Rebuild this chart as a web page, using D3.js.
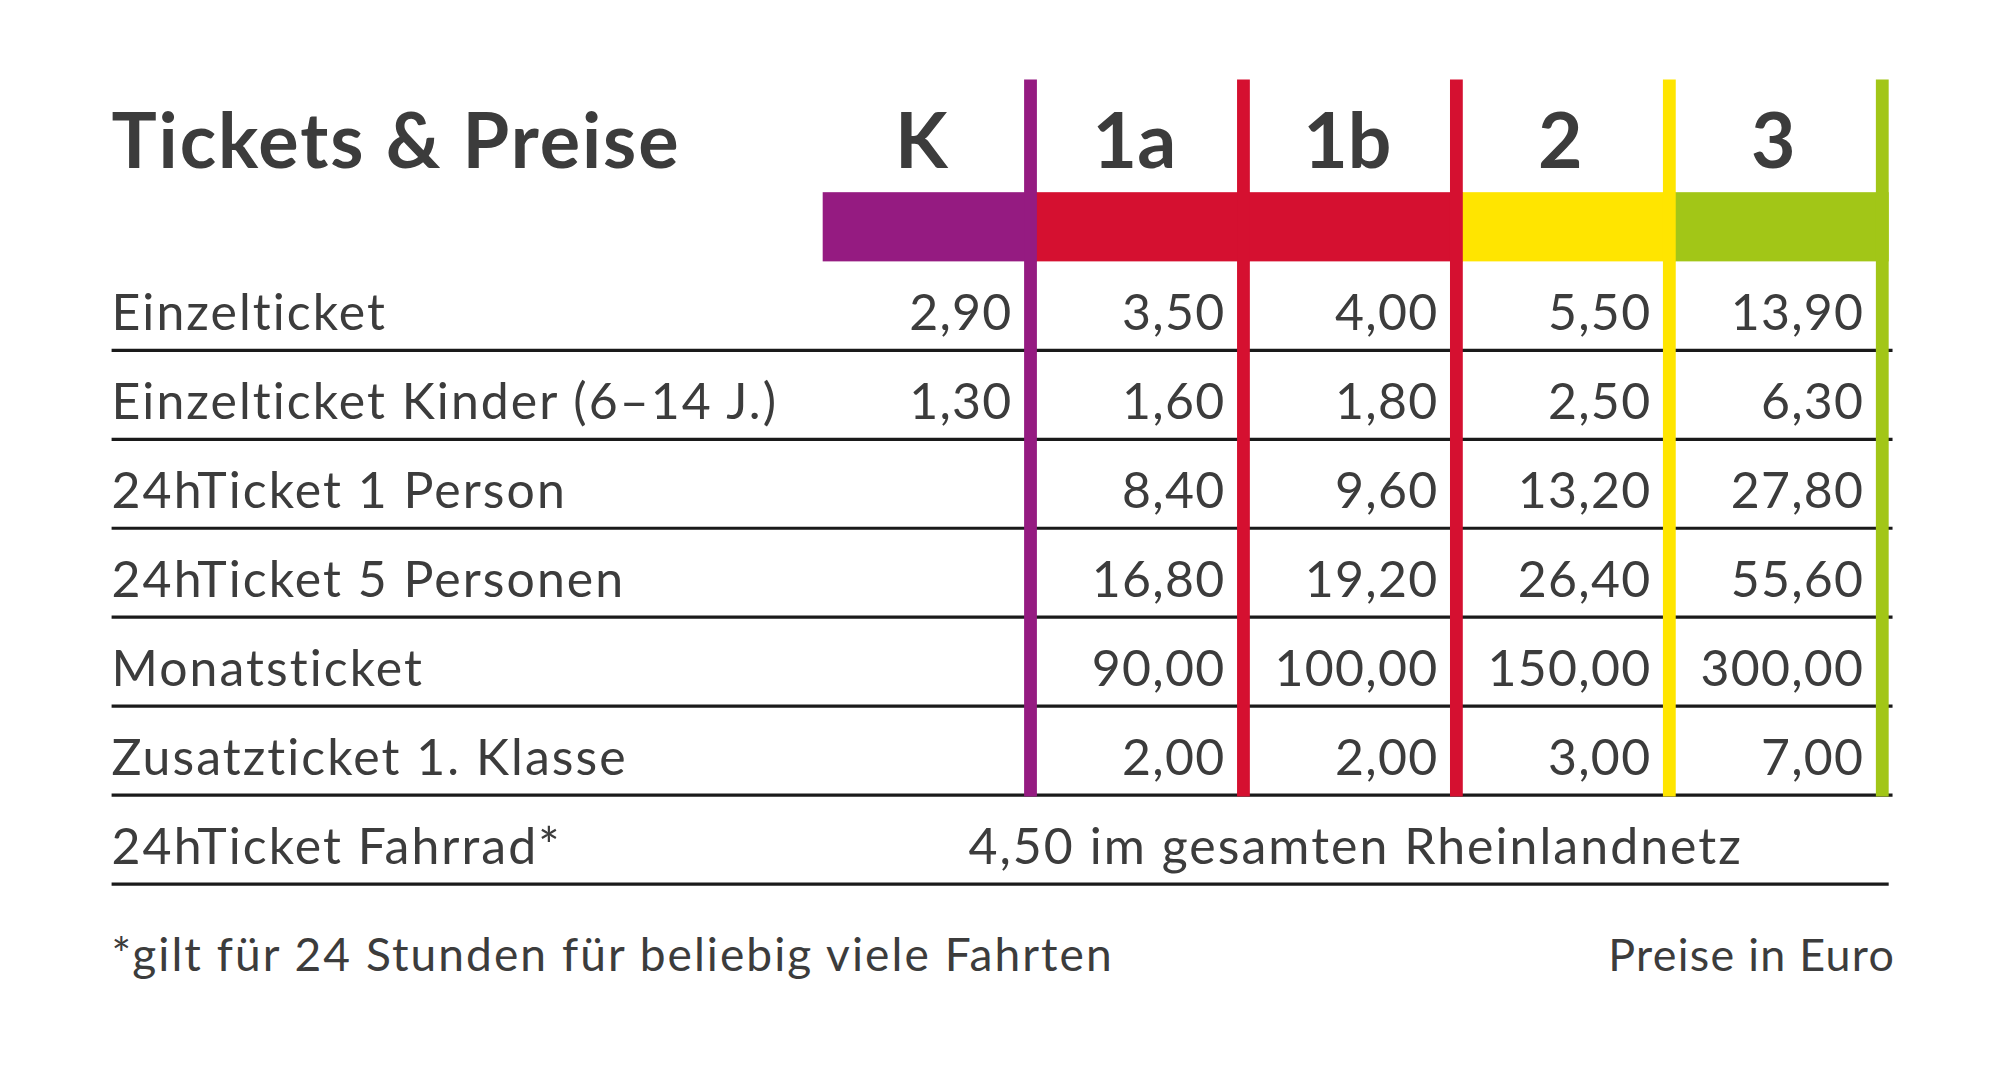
<!DOCTYPE html>
<html><head><meta charset="utf-8">
<script src="https://cdn.jsdelivr.net/npm/d3@7"></script>
<style>body{margin:0;background:#fff}svg{display:block}</style>
</head><body>
<script>
const zones = ["K","1a","1b","2","3"];
const zoneColors = ["#951b81","#d51030","#d51030","#ffe500","#a2c617"];
const tickets = ["Einzelticket","Einzelticket Kinder (6–14 J.)","24hTicket 1 Person","24hTicket 5 Personen","Monatsticket","Zusatzticket 1. Klasse"];
const prices = [
  ["2,90","3,50","4,00","5,50","13,90"],
  ["1,30","1,60","1,80","2,50","6,30"],
  ["","8,40","9,60","13,20","27,80"],
  ["","16,80","19,20","26,40","55,60"],
  ["","90,00","100,00","150,00","300,00"],
  ["","2,00","2,00","3,00","7,00"]
];
const extraLabel = "24hTicket Fahrrad*";
const extraText = "4,50 im gesamten Rheinlandnetz";
const title = "Tickets & Preise";
const footnote = "*gilt für 24 Stunden für beliebig viele Fahrten";
const unitNote = "Preise in Euro";

const font = "Lato, 'Open Sans', sans-serif";
const ink = "#3c3c3c";
const svg = d3.select("body").append("svg").attr("width",1999).attr("height",1066).attr("viewBox","0 0 1560 832");
const x = d3.scaleBand().domain(zones).range([638,1469]);
const rowsAll = tickets.concat([extraLabel]);
const y = d3.scaleBand().domain(rowsAll).range([204,690]);
const left = 87;

svg.selectAll("rect.band").data(zones).join("rect")
  .attr("x",d=>x(d)+4).attr("y",150).attr("width",x.bandwidth()+1).attr("height",54)
  .attr("fill",(d,i)=>zoneColors[i]);
svg.selectAll("line.row").data(rowsAll).join("line")
  .attr("x1",left).attr("x2",(d,i)=>i===rowsAll.length-1?1474:1477)
  .attr("y1",d=>y(d)+y.bandwidth()).attr("y2",d=>y(d)+y.bandwidth())
  .attr("stroke","#1a1a1a").attr("stroke-width",2.5);
svg.selectAll("line.v").data(zones).join("line")
  .attr("x1",d=>x(d)+x.bandwidth()).attr("x2",d=>x(d)+x.bandwidth())
  .attr("y1",62).attr("y2",y(tickets[tickets.length-1])+y.bandwidth()+1)
  .attr("stroke",(d,i)=>zoneColors[i]).attr("stroke-width",10);
svg.append("text").attr("x",left).attr("y",131).text(title).attr("letter-spacing",1.5)
  .attr("font-family",font).attr("font-weight",700).attr("font-size",59).attr("fill",ink);
svg.selectAll("text.h").data(zones).join("text")
  .attr("x",d=>x(d)+x.bandwidth()/2-2).attr("y",131).attr("text-anchor","middle")
  .text(d=>d).attr("font-family",font).attr("font-weight",700).attr("font-size",60).attr("fill",ink);
svg.selectAll("text.l").data(rowsAll).join("text")
  .attr("x",left).attr("y",d=>y(d)+y.bandwidth()-16).text(d=>d).attr("letter-spacing",1.6)
  .attr("font-family",font).attr("font-size",39).attr("fill",ink);
tickets.forEach((t,ri)=>{
  svg.selectAll("text.v"+ri).data(prices[ri]).join("text")
    .attr("x",(d,i)=>x(zones[i])+x.bandwidth()-14).attr("y",y(t)+y.bandwidth()-16)
    .attr("text-anchor","end").text(d=>d).attr("letter-spacing",1)
    .attr("font-family",font).attr("font-size",39).attr("fill",ink);
});
svg.append("text").attr("x",1058).attr("y",y(extraLabel)+y.bandwidth()-16).attr("text-anchor","middle")
  .text(extraText).attr("letter-spacing",1.6).attr("font-family",font).attr("font-size",39).attr("fill",ink);
svg.append("text").attr("x",left).attr("y",758).text(footnote).attr("letter-spacing",1.6)
  .attr("font-family",font).attr("font-size",36).attr("fill",ink);
svg.append("text").attr("x",1479).attr("y",758).attr("text-anchor","end").text(unitNote).attr("letter-spacing",1)
  .attr("font-family",font).attr("font-size",35).attr("fill",ink);
</script>
</body></html>
